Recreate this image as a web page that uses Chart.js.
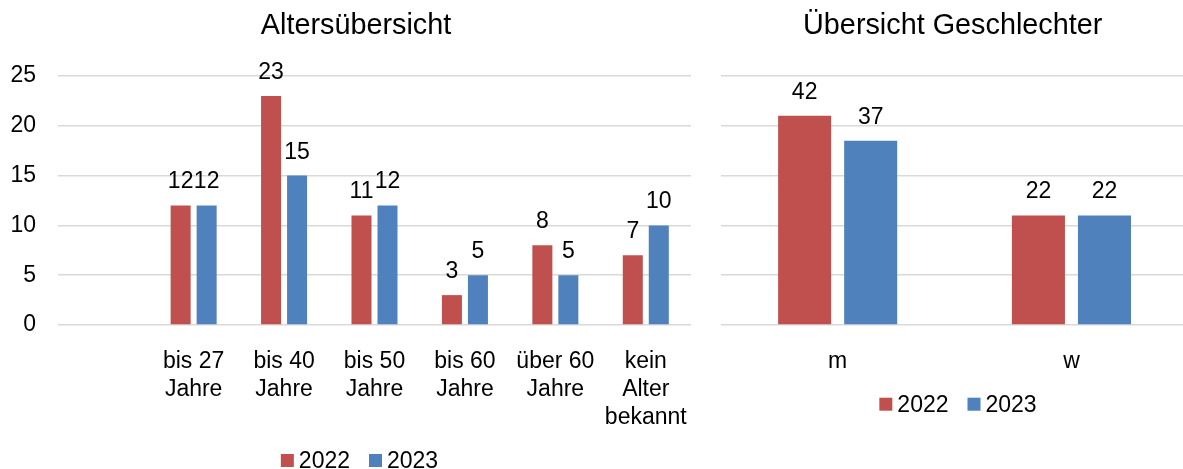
<!DOCTYPE html>
<html>
<head>
<meta charset="utf-8">
<script src="https://cdn.jsdelivr.net/npm/chart.js@4.4.0/dist/chart.umd.min.js"></script>
<style>
html,body{margin:0;padding:0;background:#fff;overflow:hidden;width:1183px;height:469px;}
canvas{position:absolute;top:0;}
#c1{left:0;}
#c2{left:712px;}
</style>
</head>
<body>
<canvas id="c1" width="712" height="469"></canvas>
<canvas id="c2" width="482" height="469"></canvas>
<script>
// ---- data ----
const ageCategories = ['', ['bis 27', 'Jahre'], ['bis 40', 'Jahre'], ['bis 50', 'Jahre'], ['bis 60', 'Jahre'], ['über 60', 'Jahre'], ['kein', 'Alter', 'bekannt']];
const age2022 = [null, 12, 23, 11, 3, 8, 7];
const age2023 = [null, 12, 15, 12, 5, 5, 10];
const ageAxisMax = 25;
const ageAxisStep = 5;

const genderCategories = ['m', 'w'];
const gender2022 = [42, 22];
const gender2023 = [37, 22];
const genderAxisMax = 50;
const genderAxisStep = 10;

const seriesLabels = ['2022', '2023'];
const seriesColors = ['#C0504D', '#4F81BD'];

const titleAge = 'Altersübersicht';
const titleGender = 'Übersicht Geschlechter';

// ---- styling ----
const FONT = "'Liberation Sans', Arial, sans-serif";
Chart.defaults.font.family = FONT;
Chart.defaults.color = '#000';

// re-centre the title box horizontally
const titleSpan = {
  id: 'titleSpan',
  afterLayout(chart, args, opts) {
    const tb = chart.titleBlock;
    if (tb && opts && opts.left !== undefined) {
      tb.left = opts.left;
      tb.right = opts.right;
      tb.width = opts.right - opts.left;
    }
  }
};

const valueLabels = {
  id: 'valueLabels',
  afterDatasetsDraw(chart, args, opts) {
    const ctx = chart.ctx;
    ctx.save();
    ctx.font = opts.size + 'px ' + FONT;
    ctx.fillStyle = '#000';
    ctx.textAlign = 'center';
    ctx.textBaseline = 'alphabetic';
    chart.data.datasets.forEach((ds, i) => {
      const meta = chart.getDatasetMeta(i);
      meta.data.forEach((el, j) => {
        const v = ds.data[j];
        if (v === null || v === undefined) return;
        ctx.fillText(String(v), el.x, el.y - opts.offset);
      });
    });
    ctx.restore();
  }
};

const customLegend = {
  id: 'customLegend',
  afterDraw(chart, args, opts) {
    const ctx = chart.ctx;
    ctx.save();
    ctx.font = opts.size + 'px ' + FONT;
    const items = chart.data.datasets.map(d => ({ text: d.label, color: d.backgroundColor, w: ctx.measureText(d.label).width }));
    const total = items.reduce((s, it) => s + opts.box + opts.gap + it.w, 0) + opts.spacing * (items.length - 1);
    let x = opts.centerX - total / 2;
    ctx.textBaseline = 'alphabetic';
    ctx.textAlign = 'left';
    for (const it of items) {
      ctx.fillStyle = it.color;
      ctx.fillRect(x, opts.boxY, opts.box, opts.box);
      x += opts.box + opts.gap;
      ctx.fillStyle = '#000';
      ctx.fillText(it.text, x, opts.baseline);
      x += it.w + opts.spacing;
    }
    ctx.restore();
  }
};

function makeDatasets(a, b) {
  return [
    { label: seriesLabels[0], data: a, backgroundColor: seriesColors[0] },
    { label: seriesLabels[1], data: b, backgroundColor: seriesColors[1] }
  ];
}

function makeOptions(cfg) {
  return {
    responsive: false,
    animation: false,
    layout: { padding: cfg.padding },
    datasets: { bar: { categoryPercentage: cfg.catPct, barPercentage: cfg.barPct } },
    plugins: {
      legend: { display: false },
      tooltip: { enabled: false },
      title: {
        display: true,
        text: cfg.title,
        color: '#000',
        font: { size: 28.8, weight: 'normal', family: FONT },
        padding: { top: 9, bottom: 32.4 }
      },
      titleSpan: cfg.titleSpan,
      valueLabels: { size: 23, offset: 17 },
      customLegend: cfg.legend
    },
    scales: {
      x: {
        grid: { display: false },
        border: { display: false },
        ticks: { font: { size: 23, lineHeight: 1.2 }, color: '#000', padding: 15.3, maxRotation: 0, autoSkip: false },
        afterFit(scale) { scale.height = 144; }
      },
      y: {
        min: 0,
        max: cfg.max,
        border: { display: false },
        grid: { color: '#d9d9d9', lineWidth: 1.5, drawTicks: false },
        ticks: { display: cfg.showTicks, stepSize: cfg.step, font: { size: 23 }, color: '#000', padding: 22 },
        afterFit(scale) { scale.width = cfg.yWidth; }
      }
    }
  };
}

new Chart(document.getElementById('c1'), {
  type: 'bar',
  data: { labels: ageCategories, datasets: makeDatasets(age2022, age2023) },
  options: makeOptions({
    title: titleAge, max: ageAxisMax, step: ageAxisStep, showTicks: true, yWidth: 58,
    padding: { left: 0, right: 21, top: 0, bottom: 0 },
    titleSpan: { left: 0, right: 712 },
    catPct: 0.575, barPct: 0.77,
    legend: { size: 23, box: 13, gap: 5, spacing: 19, centerX: 359.5, boxY: 454, baseline: 467.7 }
  }),
  plugins: [titleSpan, valueLabels, customLegend]
});

new Chart(document.getElementById('c2'), {
  type: 'bar',
  data: { labels: genderCategories, datasets: makeDatasets(gender2022, gender2023) },
  options: makeOptions({
    title: titleGender, max: genderAxisMax, step: genderAxisStep, showTicks: false, yWidth: 0,
    padding: { left: 8.75, right: 5.65, top: 0, bottom: 0 },
    titleSpan: { left: 0, right: 481.4 },
    catPct: 0.565, barPct: 0.803,
    legend: { size: 23, box: 13, gap: 5, spacing: 19, centerX: 246, boxY: 397.7, baseline: 411.5 }
  }),
  plugins: [titleSpan, valueLabels, customLegend]
});
</script>
</body>
</html>
